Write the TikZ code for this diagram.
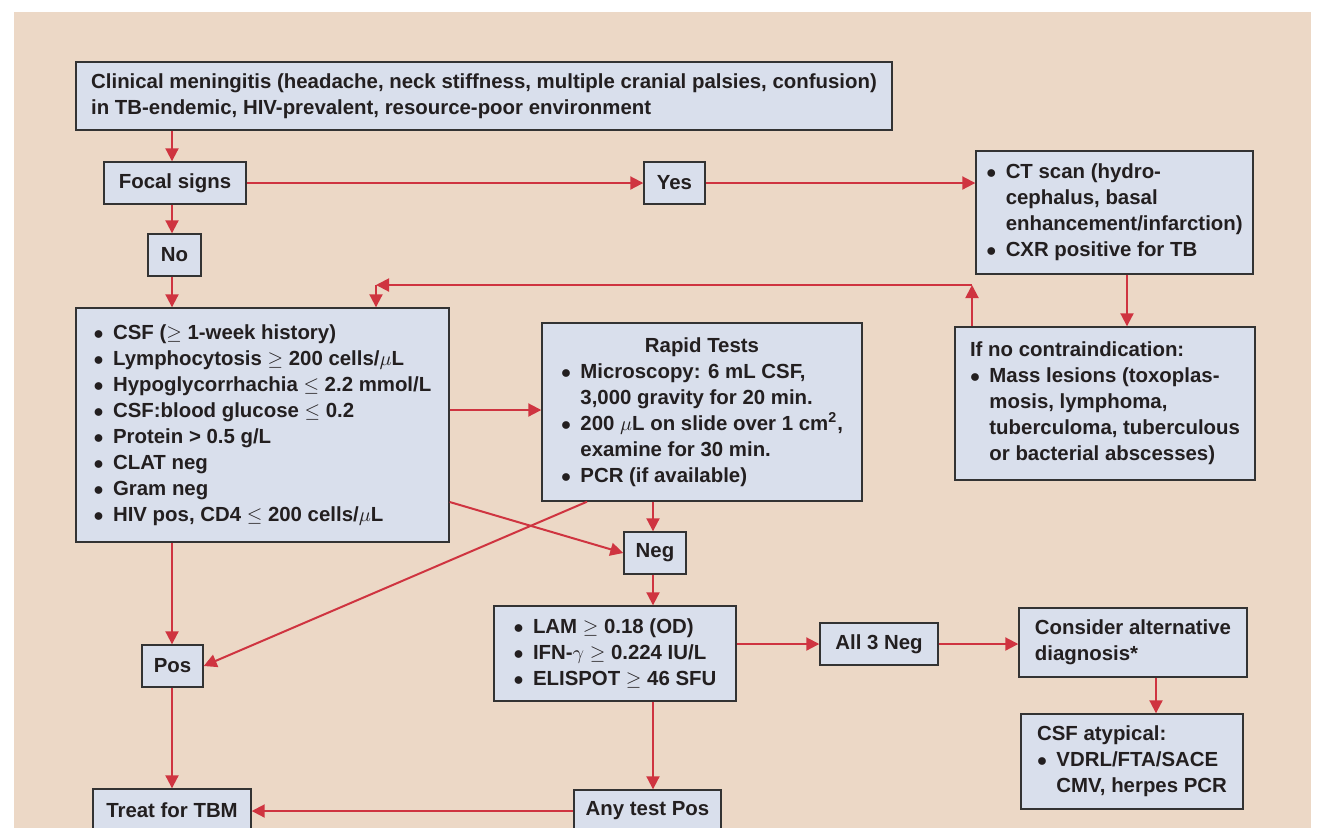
\documentclass[tikz,border=0pt]{standalone}
\usepackage{fontspec}
\setmainfont{Liberation Sans}
\usetikzlibrary{arrows.meta}

\definecolor{bgpeach}{HTML}{ECD8C6}
\definecolor{boxblue}{HTML}{D9DFEC}
\definecolor{linered}{HTML}{CF3440}
\definecolor{boxline}{HTML}{333333}
\definecolor{inkblack}{HTML}{231F20}

\newcommand{\bulitem}{\makebox[.95em][l]{$\bullet$}}
\newcommand{\bulcont}{\hspace*{.95em}}

\begin{document}
\begin{tikzpicture}[x=.5pt,y=-.5pt,line width=1pt,
  font=\fontsize{10.2}{13}\selectfont\bfseries,
  box/.style={draw=boxline,fill=boxblue,line width=.7pt,inner sep=0pt,text=inkblack,align=left},
  arr/.style={draw=linered,-{Triangle[length=6.5pt,width=6.5pt]}}]
\useasboundingbox (0,0) rectangle (1317,827);
\fill[bgpeach] (14,12) rectangle (1311,840);

% boxes
\node[box,minimum width=408pt,minimum height=34pt] (clin) at (484,96)
  {Clinical meningitis (headache, neck stiffness, multiple cranial palsies, confusion)\\
   in TB-endemic, HIV-prevalent, resource-poor environment};
\node[box,minimum width=71pt,minimum height=21pt] (focal) at (175,183) {Focal signs};
\node[box,minimum width=26.5pt,minimum height=21pt] (no) at (174.5,255) {No};
\node[box,minimum width=30.5pt,minimum height=21pt] (yes) at (674.5,183) {Yes};
\node[box,minimum width=138.5pt,minimum height=61.5pt] (ct) at (1114.5,212.5)
  {\bulitem CT scan (hydro-\\ \bulcont cephalus, basal\\ \bulcont enhancement/infarction)\\ \bulitem CXR positive for TB};
\node[box,minimum width=150pt,minimum height=76.5pt] (contra) at (1105,403.5)
  {If no contraindication:\\ \bulitem Mass lesions (toxoplas-\\ \bulcont mosis, lymphoma,\\
   \bulcont tuberculoma, tuberculous\\ \bulcont or bacterial abscesses)};
\node[box,minimum width=186.5pt,minimum height=117pt] (csf) at (262.5,425)
  {\bulitem CSF ($\geq$ 1-week history)\\
   \bulitem Lymphocytosis $\geq$ 200 cells/$\mu$L\\
   \bulitem Hypoglycorrhachia $\leq$ 2.2 mmol/L\\
   \bulitem CSF:blood glucose $\leq$ 0.2\\
   \bulitem Protein > 0.5 g/L\\
   \bulitem CLAT neg\\
   \bulitem Gram neg\\
   \bulitem HIV pos, CD4 $\leq$ 200 cells/$\mu$L};
\node[box,minimum width=160pt,minimum height=89pt] (rapid) at (702,412)
  {\begin{tabular}{@{}l@{}}
   \multicolumn{1}{@{}c@{}}{Rapid Tests}\\
   \bulitem Microscopy: 6 mL CSF,\\
   \bulcont 3,000 gravity for 20 min.\\
   \bulitem 200 $\mu$L on slide over 1 cm\textsuperscript{2},\\
   \bulcont examine for 30 min.\\
   \bulitem PCR (if available)
   \end{tabular}};
\node[box,minimum width=31pt,minimum height=21pt] (neg) at (655,553) {Neg};
\node[box,minimum width=121pt,minimum height=47.5pt] (lam) at (615,653.5)
  {\bulitem LAM $\geq$ 0.18 (OD)\\ \bulitem IFN-$\gamma$ $\geq$ 0.224 IU/L\\ \bulitem ELISPOT $\geq$ 46 SFU};
\node[box,minimum width=30.5pt,minimum height=21pt] (pos) at (172.5,666) {Pos};
\node[box,minimum width=59pt,minimum height=21pt] (all3) at (879,644) {All 3 Neg};
\node[box,minimum width=114pt,minimum height=34.5pt] (consider) at (1133,642.5)
  {Consider alternative\\ diagnosis*};
\node[box,minimum width=111pt,minimum height=47.5pt] (atyp) at (1132,761.5)
  {CSF atypical:\\ \bulitem VDRL/FTA/SACE\\ \bulcont CMV, herpes PCR};
\node[box,minimum width=79pt,minimum height=21pt] (treat) at (172,810) {Treat for TBM};
\node[box,minimum width=73.5pt,minimum height=21pt] (anypos) at (647.5,811) {Any test Pos};

% connectors
\coordinate (spine) at (172,0);
\coordinate (ctdown) at (1127,0);
\coordinate (loopR) at (972,285);
\coordinate (loopL) at (376,285);
\coordinate (rapidrow) at (0,410);
\coordinate (crossrow) at (0,502);
\coordinate (rapidout) at (587,0);
\coordinate (negcol) at (653,0);
\coordinate (altcol) at (1156,0);

\draw[arr] (clin.south -| spine) -- (focal.north -| spine);
\draw[arr] (focal.south -| spine) -- (no.north -| spine);
\draw[arr] (no.south -| spine) -- (csf.north -| spine);
\draw[arr] (focal.east) -- (yes.west);
\draw[arr] (yes.east) -- (yes.east -| ct.west);
\draw[arr] (ct.south -| ctdown) -- (contra.north -| ctdown);
\draw[arr] (contra.north -| loopR) -- (loopR);
\draw[arr] (loopR) -- (loopL);
\draw[arr] (loopL) -- (csf.north -| loopL);
\draw[arr] (csf.east |- rapidrow) -- (rapid.west |- rapidrow);
\draw[arr] (csf.east |- crossrow) -- (neg.west);
\draw[arr] (rapid.south -| rapidout) -- (pos.east);
\draw[arr] (rapid.south -| negcol) -- (neg.north -| negcol);
\draw[arr] (neg.south -| negcol) -- (lam.north -| negcol);
\draw[arr] (lam.south -| negcol) -- (anypos.north -| negcol);
\draw[arr] (csf.south -| spine) -- (pos.north -| spine);
\draw[arr] (pos.south -| spine) -- (treat.north -| spine);
\draw[arr] (anypos.west) -- (anypos.west -| treat.east);
\draw[arr] (lam.east |- all3.west) -- (all3.west);
\draw[arr] (all3.east) -- (all3.east -| consider.west);
\draw[arr] (consider.south -| altcol) -- (atyp.north -| altcol);
\end{tikzpicture}
\end{document}
